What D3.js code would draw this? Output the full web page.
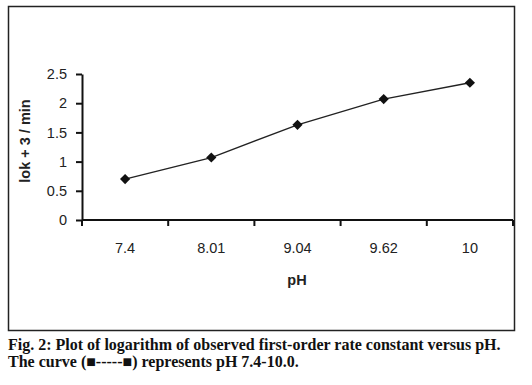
<!DOCTYPE html>
<html>
<head>
<meta charset="utf-8">
<script src="https://cdn.jsdelivr.net/npm/d3@7"></script>
<style>
  body { margin: 0; background: #fff; }
</style>
</head>
<body>
<script>
// pH categories and log k values
var phLabels = ['7.4', '8.01', '9.04', '9.62', '10'];
var logK = [0.70, 1.07, 1.63, 2.07, 2.35];
var yTicks = [0, 0.5, 1, 1.5, 2, 2.5];
var caption = [
    'Fig. 2: Plot of logarithm of observed first-order rate constant versus pH.',
    'The curve (\u25A0-----\u25A0) represents pH 7.4-10.0.'
];

var w = 532;
var h = 385;
var svg = d3.select('body')
            .append('svg')
            .attr('width', w)
            .attr('height', h);

// outer frame
svg.append('rect')
   .attr('x', 8.5)
   .attr('y', 6.5)
   .attr('width', 506)
   .attr('height', 324)
   .attr('fill', 'none')
   .attr('stroke', '#222')
   .attr('stroke-width', 1.5);

var xScale = d3.scaleBand()
               .domain(phLabels)
               .range([82, 513]);
var yScale = d3.scaleLinear()
               .domain([0, 2.5])
               .range([220, 74]);

var font = 'Liberation Sans, Arial, sans-serif';

// y axis
var yAxis = svg.append('g')
   .attr('transform', 'translate(82,0)')
   .call(d3.axisLeft(yScale).tickValues(yTicks).tickSize(6).tickSizeOuter(0)
           .tickFormat(d3.format('')));
yAxis.selectAll('line, path').attr('stroke', '#111').attr('stroke-width', 2);
yAxis.selectAll('text')
     .attr('font-family', font)
     .attr('font-size', 14.5)
     .attr('fill', '#222')
     .attr('x', -15);

// x axis: ticks at band edges
var edges = phLabels.map(function(d) { return xScale(d); }).concat([xScale.range()[1]]);
var xAxis = svg.append('g').attr('transform', 'translate(0,220)');
xAxis.append('line')
     .attr('x1', 82).attr('x2', 513)
     .attr('stroke', '#111').attr('stroke-width', 2);
xAxis.selectAll('.tick')
     .data(edges)
     .enter()
     .append('line')
     .attr('x1', function(d) { return d; })
     .attr('x2', function(d) { return d; })
     .attr('y1', 0).attr('y2', 6)
     .attr('stroke', '#111').attr('stroke-width', 2);
xAxis.selectAll('.lab')
     .data(phLabels)
     .enter()
     .append('text')
     .attr('x', function(d) { return xScale(d) + xScale.bandwidth() / 2; })
     .attr('y', 33)
     .attr('text-anchor', 'middle')
     .attr('font-family', font)
     .attr('font-size', 14.5)
     .attr('fill', '#222')
     .text(function(d) { return d; });

// line + diamond markers
var pts = phLabels.map(function(d, i) { return [d, logK[i]]; });
var line = d3.line()
             .x(function(d) { return xScale(d[0]) + xScale.bandwidth() / 2; })
             .y(function(d) { return yScale(d[1]); });
svg.append('path')
   .datum(pts)
   .attr('d', line)
   .attr('fill', 'none')
   .attr('stroke', '#222')
   .attr('stroke-width', 1.3);
svg.selectAll('.pt')
   .data(pts)
   .enter()
   .append('path')
   .attr('d', d3.symbol().type(d3.symbolSquare).size(52))
   .attr('transform', function(d) {
        return 'translate(' + (xScale(d[0]) + xScale.bandwidth() / 2) + ',' + yScale(d[1]) + ') rotate(45) scale(1,1)';
   })
   .attr('fill', '#111');

// axis titles
svg.append('text')
   .attr('x', 297)
   .attr('y', 285)
   .attr('text-anchor', 'middle')
   .attr('font-family', font)
   .attr('font-size', 14.5)
   .attr('font-weight', 'bold')
   .attr('fill', '#222')
   .text('pH');
svg.append('text')
   .attr('transform', 'translate(30,141) rotate(-90)')
   .attr('text-anchor', 'middle')
   .attr('font-family', font)
   .attr('font-size', 14.5)
   .attr('font-weight', 'bold')
   .attr('fill', '#222')
   .text('lok + 3 / min');

// caption
svg.selectAll('.cap')
   .data(caption)
   .enter()
   .append('text')
   .attr('x', 8)
   .attr('y', function(d, i) { return 350 + i * 17; })
   .attr('font-family', 'Liberation Serif, Times New Roman, serif')
   .attr('font-size', 16)
   .attr('font-weight', 'bold')
   .attr('fill', '#111')
   .text(function(d) { return d; });
</script>
</body>
</html>
